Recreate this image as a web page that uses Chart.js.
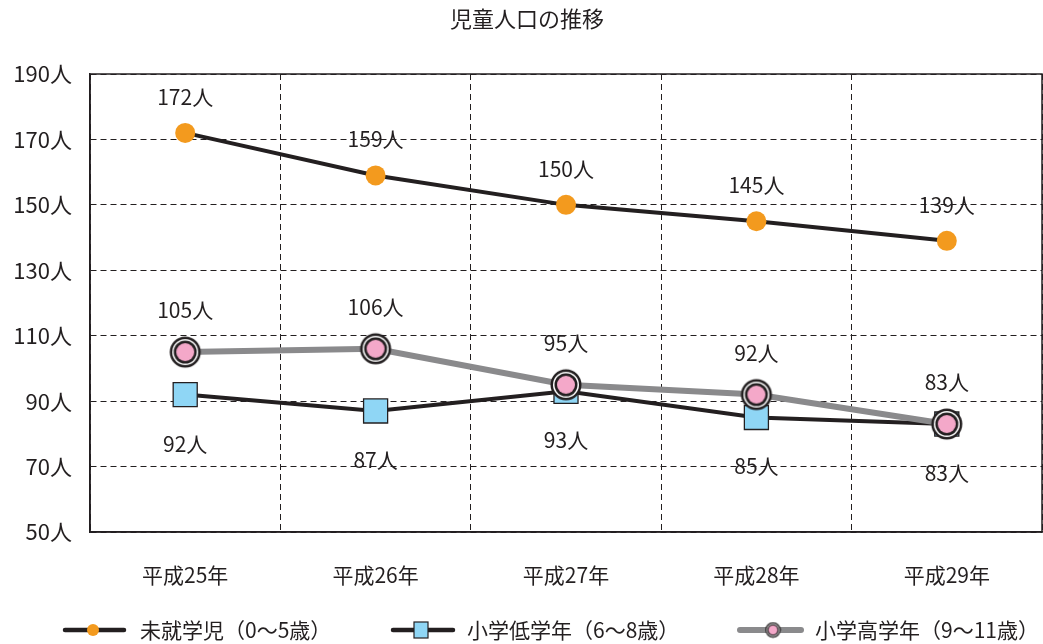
<!DOCTYPE html>
<html><head><meta charset="utf-8">
<script src="https://cdn.jsdelivr.net/npm/chart.js@4/dist/chart.umd.min.js"></script>
<style>html,body{margin:0;padding:0;background:#fff}#wrap{width:1043px;height:644px}</style>
</head><body><div id="wrap"><canvas id="c" width="1043" height="644"></canvas></div>
<script>
const title = '児童人口の推移';
const categories = ['平成25年','平成26年','平成27年','平成28年','平成29年'];
const preschool = [172,159,150,145,139];
const lowerGrade = [92,87,93,85,83];
const upperGrade = [105,106,95,92,83];
const seriesNames = ['未就学児（0〜5歳）','小学低学年（6〜8歳）','小学高学年（9〜11歳）'];
const yTicks = [50,70,90,110,130,150,170,190];
const unit = '人';
const FONT = '"Noto Sans CJK JP","Noto Sans",sans-serif';

function pinkMarker(scale){
  const s = scale, size = Math.ceil(34*s);
  const cv = document.createElement('canvas'); cv.width = size; cv.height = size;
  const g = cv.getContext('2d'); const c = size/2;
  g.beginPath(); g.arc(c,c,15.5*s,0,Math.PI*2); g.fillStyle='#231f20'; g.fill();
  g.beginPath(); g.arc(c,c,13*s,0,Math.PI*2); g.fillStyle='#ffffff'; g.fill();
  g.beginPath(); g.arc(c,c,11.5*s,0,Math.PI*2); g.fillStyle='#231f20'; g.fill();
  g.beginPath(); g.arc(c,c,9*s,0,Math.PI*2); g.fillStyle='#f4a8c9'; g.fill();
  return cv;
}
const pinkBig = pinkMarker(1);

const labelPlugin = {
  id:'labels',
  afterDatasetsDraw(chart){
    const ctx = chart.ctx; const offs = [-36, 49, -42];
    ctx.save(); ctx.font = '21px '+FONT; ctx.fillStyle='#231f20';
    ctx.textAlign='center'; ctx.textBaseline='middle';
    chart.data.datasets.forEach((ds,i)=>{
      chart.getDatasetMeta(i).data.forEach((p,j)=>{
        ctx.fillText(ds.data[j]+unit, p.x, p.y+offs[i]);
      });
    });
    ctx.restore();
  },
  beforeDatasetsDraw(chart){
    const a = chart.chartArea, ctx = chart.ctx;
    ctx.save(); ctx.setLineDash([]); ctx.strokeStyle='#231f20'; ctx.lineWidth=1.5;
    ctx.strokeRect(a.left, a.top, a.right-a.left, a.bottom-a.top);
    ctx.restore();
  },
  afterDraw(chart){
    const ctx = chart.ctx;
    ctx.save();
    ctx.font='22px '+FONT; ctx.fillStyle='#231f20'; ctx.textAlign='center'; ctx.textBaseline='middle';
    ctx.fillText(title, 527, 19);
    const y = 630;
    const items = [{x0:65,x1:124,mx:93,tx:140},{x0:393,x1:453,mx:421,tx:467},{x0:740,x1:801,mx:773,tx:815}];
    items.forEach((it,i)=>{
      ctx.beginPath(); ctx.moveTo(it.x0,y); ctx.lineTo(it.x1,y);
      ctx.strokeStyle = i===2 ? '#8a8a8c' : '#231f20'; ctx.lineWidth = i===2?6:4.5; ctx.lineCap='round'; ctx.stroke();
      if(i===0){ctx.beginPath(); ctx.arc(it.mx,y,6,0,Math.PI*2); ctx.fillStyle='#f39a1e'; ctx.fill();}
      if(i===1){ctx.fillStyle='#8fd6f5'; ctx.fillRect(it.mx-7,y-8,14,16); ctx.strokeStyle='#231f20'; ctx.lineWidth=1.2; ctx.strokeRect(it.mx-7,y-8,14,16);}
      if(i===2){ctx.drawImage(pinkMarker(0.5), it.mx-8.5, y-8.5);}
      ctx.font='21px '+FONT; ctx.fillStyle='#231f20'; ctx.textAlign='left'; ctx.textBaseline='middle';
      ctx.fillText(seriesNames[i], it.tx, y);
    });
    ctx.restore();
  }
};

new Chart(document.getElementById('c'), {
  type:'line',
  data:{
    labels: categories,
    datasets:[
      {label:seriesNames[0], data:preschool, borderColor:'#231f20', borderWidth:4, pointStyle:'circle', pointRadius:10, pointHoverRadius:10, pointBackgroundColor:'#f39a1e', pointBorderWidth:0, order:2, tension:0},
      {label:seriesNames[1], data:lowerGrade, borderColor:'#231f20', borderWidth:4, pointStyle:'rect', pointRadius:17, pointHoverRadius:17, pointBackgroundColor:'#8fd6f5', pointBorderColor:'#231f20', pointBorderWidth:1.3, order:1, tension:0},
      {label:seriesNames[2], data:upperGrade, borderColor:'#8a8a8c', borderWidth:6, pointStyle:pinkBig, pointRadius:16, pointHoverRadius:16, order:0, tension:0}
    ]
  },
  options:{
    responsive:false, animation:false, devicePixelRatio:1,
    layout:{autoPadding:false, padding:{top:74,right:1,bottom:0,left:0}},
    plugins:{legend:{display:false}, title:{display:false}, tooltip:{enabled:false}},
    scales:{
      x:{offset:true,
        grid:{offset:true, color:'#231f20', lineWidth:1, drawTicks:false},
        border:{display:true,color:'#231f20',width:1.5, dash:[6,4]},
        ticks:{font:{family:FONT,size:21}, color:'#231f20', padding:30},
        afterFit(s){ s.height = 112; s.paddingLeft = 0; s.paddingRight = 0; }
      },
      y:{min:50,max:190,
        afterBuildTicks(s){ s.ticks = yTicks.map(v=>({value:v})); },
        grid:{color:'#231f20', lineWidth:1, drawTicks:false},
        border:{display:true,color:'#231f20',width:1.5, dash:[6,4]},
        ticks:{font:{family:FONT,size:22}, color:'#231f20', padding:18, callback:v=>v+unit},
        afterFit(s){ s.width = 90; s.paddingTop = 0; s.paddingBottom = 0; }
      }
    }
  },
  plugins:[labelPlugin]
});
</script></body></html>
